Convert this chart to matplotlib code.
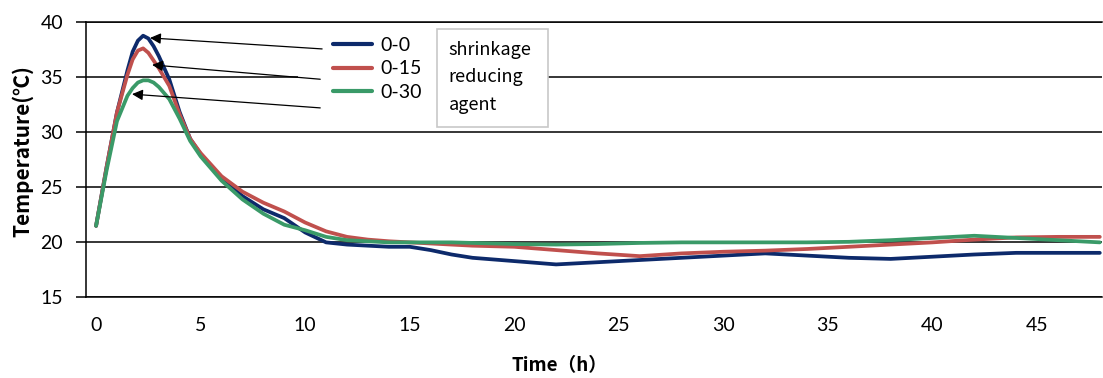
import matplotlib.pyplot as plt
from matplotlib.patches import Rectangle

# Zeitachse (h) und Temperaturverläufe (°C)
time_h = [0, 0.5, 1, 1.5, 1.75, 2, 2.25, 2.5, 2.75, 3, 3.5, 4, 4.5, 5, 6, 7, 8, 9, 10,
          11, 12, 13, 14, 15, 16, 17, 18, 20, 22, 24, 26, 28, 30, 32, 34, 36, 38, 40,
          42, 44, 46, 48]

temp_0_0 = [21.5, 26.8, 31.8, 35.6, 37.3, 38.3, 38.75, 38.5, 37.8, 36.9, 34.8, 31.8, 29.4,
            28.0, 25.8, 24.2, 23.0, 22.2, 20.9, 20.0, 19.8, 19.7, 19.6, 19.6, 19.3, 18.9,
            18.6, 18.3, 18.0, 18.2, 18.4, 18.6, 18.8, 19.0, 18.8, 18.6, 18.5, 18.7, 18.9,
            19.05, 19.05, 19.05]

temp_0_15 = [21.5, 26.8, 31.8, 35.2, 36.6, 37.4, 37.6, 37.2, 36.5, 35.8, 34.2, 31.6, 29.4,
             28.1, 26.0, 24.6, 23.6, 22.8, 21.8, 21.0, 20.5, 20.25, 20.1, 20.0, 19.9, 19.8,
             19.7, 19.6, 19.3, 19.0, 18.75, 19.0, 19.15, 19.25, 19.4, 19.6, 19.8, 20.0,
             20.25, 20.45, 20.5, 20.5]

temp_0_30 = [21.5, 26.5, 31.0, 33.3, 34.0, 34.5, 34.7, 34.7, 34.5, 34.1, 33.0, 31.2, 29.2,
             27.8, 25.6, 23.9, 22.6, 21.6, 21.1, 20.5, 20.2, 20.1, 20.0, 20.0, 20.0, 20.0,
             19.95, 19.85, 19.8, 19.85, 19.95, 20.0, 20.0, 20.0, 20.0, 20.05, 20.2, 20.4,
             20.6, 20.4, 20.2, 20.0]

labels = ["0-0", "0-15", "0-30"]
colors = ["#0d2a6b", "#c0504d", "#3a9a68"]
series = [temp_0_0, temp_0_15, temp_0_30]

# (Pfeilspitze, Textposition) in Datenkoordinaten
arrows = [((2.58, 38.55), (10.81, 37.55)),
          ((2.68, 36.1), (10.72, 34.8)),
          ((1.72, 33.45), (10.72, 32.2))]

tick_font = "Lato"
jp_font = ["Noto Sans CJK JP", "DejaVu Sans"]

fig = plt.figure(figsize=(11.03, 3.78), dpi=100)
ax = fig.add_axes([0.078, 0.213, 0.921, 0.729])

for vals, lab, col in zip(series, labels, colors):
    ax.plot(time_h, vals, color=col, lw=2.7, label=lab, zorder=4,
            solid_capstyle="round", solid_joinstyle="round")

ax.set_xlim(-0.48, 48.1)
ax.set_ylim(15, 40)
ax.set_xticks(range(0, 50, 5))
ax.set_yticks(range(15, 45, 5))
ax.yaxis.grid(True, color="black", lw=1.1)
ax.set_axisbelow(True)

ax.spines["right"].set_visible(False)
for s in ["left", "top", "bottom"]:
    ax.spines[s].set_linewidth(1.1)

ax.tick_params(axis="y", direction="out", length=7, width=1.1, pad=9.5)
ax.tick_params(axis="x", length=0, pad=14)
for lbl in ax.get_xticklabels() + ax.get_yticklabels():
    lbl.set_fontfamily(tick_font)
    lbl.set_fontsize(14)

ax.set_ylabel("Temperature(℃)", fontsize=15, fontweight="bold", family=jp_font)
ax.yaxis.set_label_coords(-0.052, 0.53)
ax.set_xlabel("Time（h）", fontsize=13.5, fontweight="bold", family=jp_font, labelpad=16)
ax.xaxis.label.set_x(0.4665)

# weisser Hintergrund hinter der Legende (verdeckt die Gitterlinie)
ax.add_patch(Rectangle((0.2087, 0.68), 0.14, 0.24, transform=ax.transAxes,
                       facecolor="white", edgecolor="none", zorder=2))

leg = ax.legend(loc="upper left", bbox_to_anchor=(0.2431, 0.945), frameon=False,
                borderpad=0, borderaxespad=0, handlelength=2.0, handletextpad=0.45,
                labelspacing=0.33, prop={"family": tick_font, "size": 14})
leg.set_zorder(5)
for h in leg.get_lines():
    h.set_linewidth(3)

# Kasten "shrinkage reducing agent"
ax.add_patch(Rectangle((0.3455, 0.619), 0.1092, 0.3556, transform=ax.transAxes,
                       facecolor="white", edgecolor="#c8c8c8", lw=1.2, zorder=5))
for i, word in enumerate(["shrinkage", "reducing", "agent"]):
    ax.text(0.357, 0.898 - i * 0.0995, word, transform=ax.transAxes, va="center",
            ha="left", fontsize=13, family=jp_font, zorder=6)

for tip, start in arrows:
    ax.annotate("", xy=tip, xytext=start,
                arrowprops=dict(arrowstyle="-|>", color="black", lw=0.9,
                                mutation_scale=16, shrinkA=0, shrinkB=0),
                zorder=7)

fig.savefig("out.png", dpi=100)
